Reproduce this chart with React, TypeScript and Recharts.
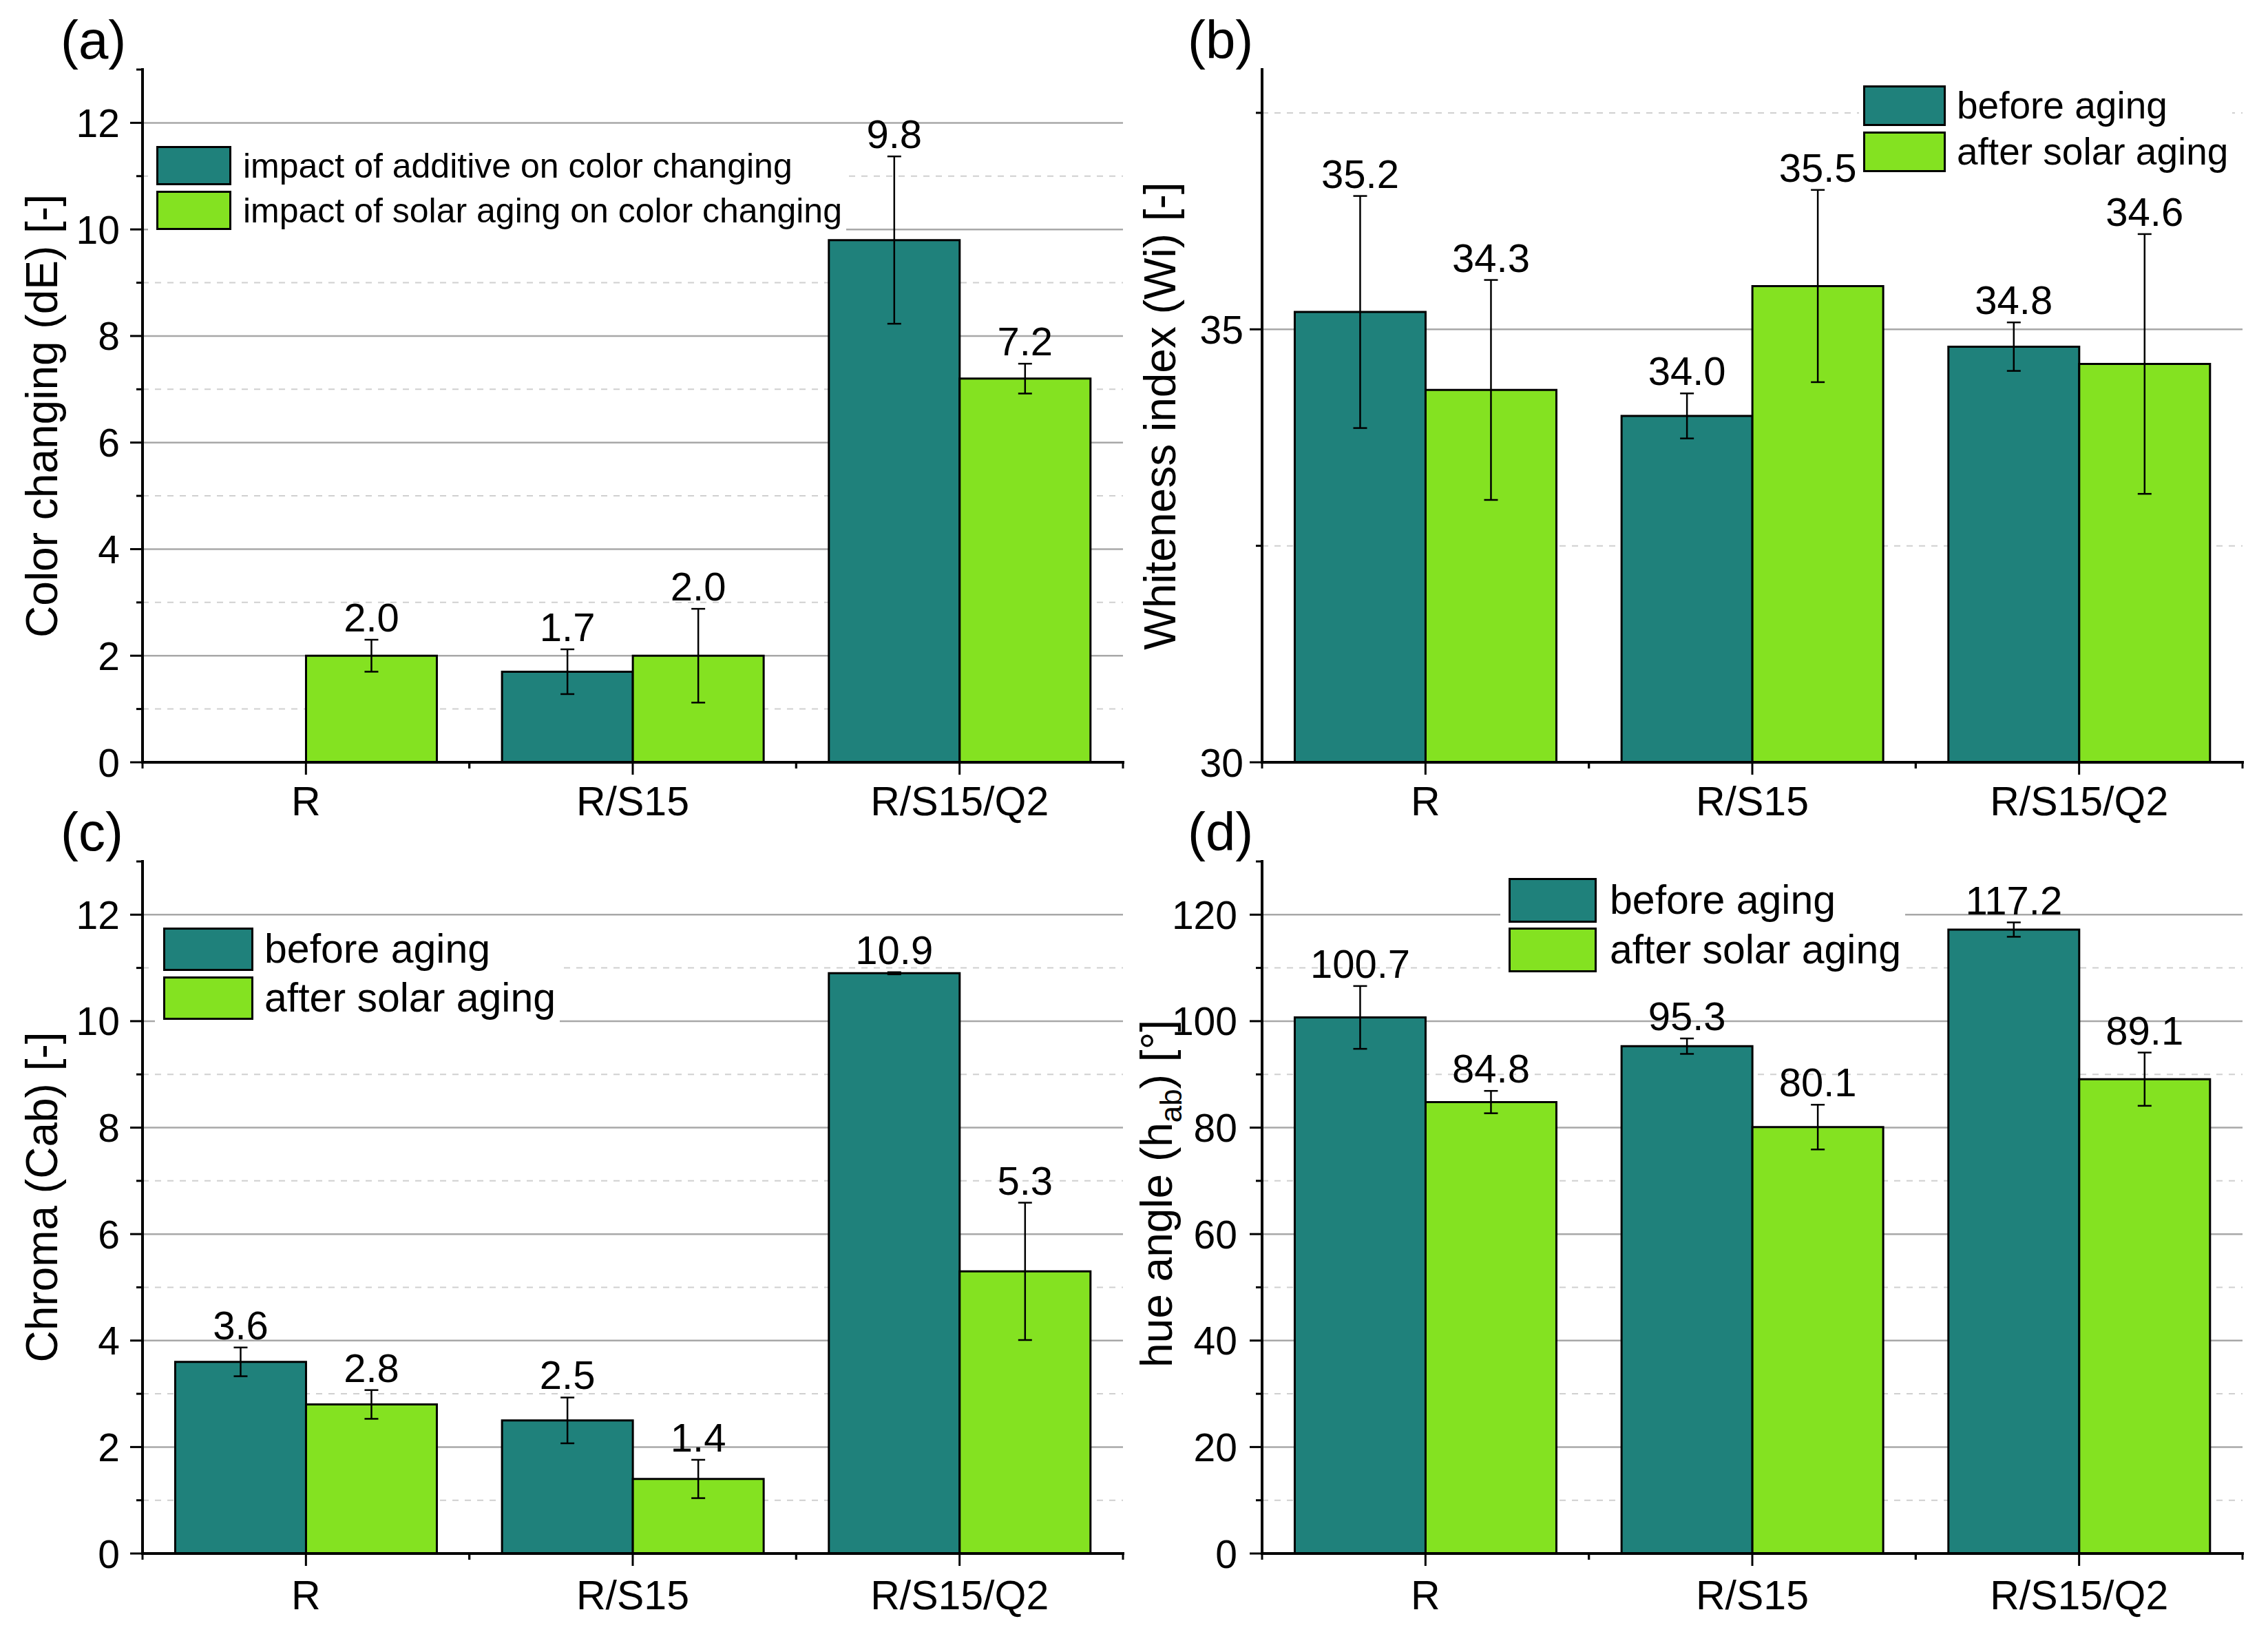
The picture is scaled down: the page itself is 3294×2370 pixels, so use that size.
import React from 'react';
import { BarChart, Bar, XAxis, YAxis, CartesianGrid, ErrorBar, LabelList, Legend } from 'recharts';

const FONT = "'Liberation Sans', Arial, Helvetica, sans-serif";
const TEAL = '#1f817b';
const GREEN = '#84e221';

const categories = ['R', 'R/S15', 'R/S15/Q2'];

// (a) colour change dE
const additiveDE = [null, 1.7, 9.8];
const additiveDEErr = [null, 0.42, 1.57];
const solarDE = [2.0, 2.0, 7.2];
const solarDEErr = [0.3, 0.88, 0.28];
// (b) whiteness index
const whiteBefore = [35.2, 34.0, 34.8];
const whiteBeforeErr = [1.34, 0.26, 0.28];
const whiteAfter = [34.3, 35.5, 34.6];
const whiteAfterErr = [1.27, 1.11, 1.5];
// (c) chroma
const chromaBefore = [3.6, 2.5, 10.9];
const chromaBeforeErr = [0.27, 0.43, 0.02];
const chromaAfter = [2.8, 1.4, 5.3];
const chromaAfterErr = [0.27, 0.36, 1.29];
// (d) hue angle
const hueBefore = [100.7, 95.3, 117.2];
const hueBeforeErr = [5.9, 1.45, 1.35];
const hueAfter = [84.8, 80.1, 89.1];
const hueAfterErr = [2.1, 4.2, 5.0];

// axis ticks
const ticks13 = [0, 1, 2, 3, 4, 5, 6, 7, 8, 9, 10, 11, 12, 13];
const majors13 = [0, 2, 4, 6, 8, 10, 12];
const grid13Major = [2, 4, 6, 8, 10, 12];
const grid13Minor = [1, 3, 5, 7, 9, 11];
const ticksWi = [30, 32.5, 35, 37.5];
const majorsWi = [30, 35];
const gridWiMajor = [35];
const gridWiMinor = [32.5, 37.5];
const ticksHue = [0, 10, 20, 30, 40, 50, 60, 70, 80, 90, 100, 110, 120, 130];
const majorsHue = [0, 20, 40, 60, 80, 100, 120];
const gridHueMajor = [20, 40, 60, 80, 100, 120];
const gridHueMinor = [10, 30, 50, 70, 90, 110];

const legendAB = ['impact of additive on color changing', 'impact of solar aging on color changing'];
const legendAging = ['before aging', 'after solar aging'];

const axisStyle = { stroke: '#000', strokeWidth: 4, strokeLinecap: 'square' as const };

const LeftTick = (props: any) => {
  const { x, y, payload, majors, gap } = props;
  const major = majors.includes(payload.value);
  return (
    <g>
      <line x1={x} x2={x - (major ? 18 : 9)} y1={y} y2={y} stroke="#000" strokeWidth={3} />
      {major && (
        <text x={x - gap} y={y} dy="0.36em" textAnchor="end" fontSize={57} fontFamily={FONT} fill="#000">
          {payload.value}
        </text>
      )}
    </g>
  );
};

const RightTick = (props: any) => {
  const { x, y, payload, majors } = props;
  const major = majors.includes(payload.value);
  return <line x1={x} x2={x - (major ? 18 : 9)} y1={y} y2={y} stroke="#000" strokeWidth={3} />;
};

const CatTick = (props: any) => {
  const { x, y, payload, labelDy, bw, showLabel } = props;
  return (
    <g>
      <line x1={x} x2={x} y1={y} y2={y + 18} stroke="#000" strokeWidth={3} />
      <line x1={x - bw / 2} x2={x - bw / 2} y1={y} y2={y + 9} stroke="#000" strokeWidth={3} />
      <line x1={x + bw / 2} x2={x + bw / 2} y1={y} y2={y + 9} stroke="#000" strokeWidth={3} />
      {showLabel && (
        <text x={x} y={y + labelDy} textAnchor="middle" fontSize={59} fontFamily={FONT} fill="#000">
          {payload.value}
        </text>
      )}
    </g>
  );
};

const makeValueLabel = (vals: (number | null)[], errs: (number | null)[], base: number) => (props: any) => {
  const vb = props.viewBox || {};
  const x = vb.x ?? props.x;
  const y = vb.y ?? props.y;
  const w = vb.width ?? props.width;
  const h = vb.height ?? props.height;
  const value = props.value;
  if (value == null || !isFinite(Number(value))) return null;
  let idx = props.index;
  if (idx == null || vals[idx] !== Number(value)) idx = vals.indexOf(Number(value));
  const ppu = h / (Number(value) - base);
  const e = errs[idx] ?? 0;
  const ty = y - e * ppu - 12;
  return (
    <text x={x + w / 2} y={ty} textAnchor="middle" fontSize={58} fontFamily={FONT} fill="#000">
      {Number(value).toFixed(1)}
    </text>
  );
};

const LegendBox = ({ names, fontSize, sw, sh, gap, textGap, pad }: any) => (
  <div style={{ background: '#fff', padding: pad, fontFamily: FONT }}>
    {names.map((n: string, i: number) => (
      <div key={n} style={{ display: 'flex', alignItems: 'center', marginTop: i ? gap : 0 }}>
        <div
          style={{
            width: sw,
            height: sh,
            background: i === 0 ? TEAL : GREEN,
            border: '3px solid #000',
            boxSizing: 'border-box',
            flex: 'none',
          }}
        />
        <span style={{ marginLeft: textGap, fontSize, lineHeight: 1, color: '#000', whiteSpace: 'nowrap' }}>{n}</span>
      </div>
    ))}
  </div>
);

const YTitle = ({ viewBox, dx, dyc, children }: any) => {
  const vb = viewBox || { x: 0, y: 0, width: 0, height: 0 };
  const cx = vb.x + dx;
  const cy = vb.y + vb.height / 2 + dyc;
  return (
    <text x={cx} y={cy} transform={`rotate(-90 ${cx} ${cy})`} textAnchor="middle" fontSize={64} fontFamily={FONT} fill="#000">
      {children}
    </text>
  );
};

function Panel(p: any) {
  const data = categories.map((cat, i) => ({ cat, s1: p.s1[i], e1: p.e1[i], s2: p.s2[i], e2: p.e2[i] }));
  const base = p.domain[0];
  const plotW = p.width - p.margin.left - p.margin.right - p.yWidth;
  const bw = plotW / categories.length;
  return (
    <div style={{ position: 'absolute', left: p.left, top: p.top, width: p.width, height: p.height }}>
      <BarChart width={p.width} height={p.height} data={data} margin={p.margin} barCategoryGap="10%" barGap={0}>
        <CartesianGrid xAxisId="cat" yAxisId="left" vertical={false} horizontalValues={p.gridMajor} stroke="#a8a8a8" strokeWidth={2.5} />
        <CartesianGrid xAxisId="cat" yAxisId="left" vertical={false} horizontalValues={p.gridMinor} stroke="#d0d0d0" strokeWidth={2} strokeDasharray="9 9" />
        <XAxis
          xAxisId="cat"
          dataKey="cat"
          interval={0}
          height={p.xHeight}
          tickLine={false}
          tickSize={0}
          tickMargin={0}
          axisLine={axisStyle}
          tick={(t: any) => <CatTick {...t} labelDy={p.labelDy} bw={bw} showLabel />}
        />
        <XAxis
          xAxisId="top"
          orientation="top"
          dataKey="cat"
          interval={0}
          height={0}
          tickLine={false}
          tickSize={0}
          tickMargin={0}
          axisLine={axisStyle}
          tick={(t: any) => <CatTick {...t} bw={bw} showLabel={false} />}
        />
        <YAxis
          yAxisId="left"
          type="number"
          domain={p.domain}
          allowDataOverflow
          ticks={p.ticks}
          interval={0}
          width={p.yWidth}
          tickLine={false}
          tickSize={0}
          tickMargin={0}
          axisLine={axisStyle}
          tick={(t: any) => <LeftTick {...t} majors={p.majors} gap={p.tickGap} />}
          label={(lp: any) => (
            <YTitle viewBox={lp.viewBox} dx={p.titleX} dyc={p.titleDy}>
              {p.title}
            </YTitle>
          )}
        />
        <YAxis
          yAxisId="right"
          orientation="right"
          type="number"
          domain={p.domain}
          allowDataOverflow
          ticks={p.ticks}
          interval={0}
          width={0}
          tickLine={false}
          tickSize={0}
          tickMargin={0}
          axisLine={axisStyle}
          tick={(t: any) => <RightTick {...t} majors={p.majors} />}
        />
        <Legend
          layout="horizontal"
          verticalAlign="middle"
          align="center"
          wrapperStyle={{ left: p.legend.left, top: p.legend.top, width: 'auto', height: 'auto' }}
          content={() => <LegendBox {...p.legend} />}
        />
        <Bar xAxisId="cat" yAxisId="left" dataKey="s1" name={p.names[0]} fill={TEAL} stroke="#000" strokeWidth={3} isAnimationActive={false}>
          <ErrorBar dataKey="e1" width={10} stroke="#000" strokeWidth={2.5} />
          <LabelList dataKey="s1" content={makeValueLabel(p.s1, p.e1, base)} />
        </Bar>
        <Bar xAxisId="cat" yAxisId="left" dataKey="s2" name={p.names[1]} fill={GREEN} stroke="#000" strokeWidth={3} isAnimationActive={false}>
          <ErrorBar dataKey="e2" width={10} stroke="#000" strokeWidth={2.5} />
          <LabelList dataKey="s2" content={makeValueLabel(p.s2, p.e2, base)} />
        </Bar>
      </BarChart>
    </div>
  );
}

const letterStyle = (left: number, top: number): React.CSSProperties => ({
  position: 'absolute',
  left,
  top,
  fontSize: 78,
  lineHeight: 1,
  fontFamily: FONT,
  color: '#000',
});

export default function App() {
  return (
    <div style={{ position: 'absolute', left: 0, top: 0, width: 3294, height: 2370, background: '#fff', fontFamily: FONT, overflow: 'hidden' }}>
      <Panel
        left={0}
        top={0}
        width={1640}
        height={1200}
        margin={{ top: 101, right: 9, bottom: 0, left: 0 }}
        yWidth={207}
        xHeight={93}
        labelDy={77}
        domain={[0, 13]}
        ticks={ticks13}
        majors={majors13}
        gridMajor={grid13Major}
        gridMinor={grid13Minor}
        tickGap={33}
        titleX={83}
        titleDy={0}
        title="Color changing (dE) [-]"
        names={legendAB}
        s1={additiveDE}
        e1={additiveDEErr}
        s2={solarDE}
        e2={solarDEErr}
        legend={{ left: 215, top: 198, names: legendAB, fontSize: 50, sw: 109, sh: 57, gap: 8, textGap: 17, pad: '14px 6px 12px 12px' }}
      />
      <Panel
        left={1640}
        top={0}
        width={1654}
        height={1200}
        margin={{ top: 101, right: 37, bottom: 0, left: 0 }}
        yWidth={193}
        xHeight={93}
        labelDy={77}
        domain={[30, 38]}
        ticks={ticksWi}
        majors={majorsWi}
        gridMajor={gridWiMajor}
        gridMinor={gridWiMinor}
        tickGap={27}
        titleX={67}
        titleDy={0}
        title="Whiteness index (Wi) [-]"
        names={legendAging}
        s1={whiteBefore}
        e1={whiteBeforeErr}
        s2={whiteAfter}
        e2={whiteAfterErr}
        legend={{ left: 1060, top: 110, names: legendAging, fontSize: 55, sw: 120, sh: 59, gap: 8, textGap: 16, pad: '14px 6px 10px 6px' }}
      />
      <Panel
        left={0}
        top={1180}
        width={1640}
        height={1190}
        margin={{ top: 71, right: 9, bottom: 0, left: 0 }}
        yWidth={207}
        xHeight={114}
        labelDy={81}
        domain={[0, 13]}
        ticks={ticks13}
        majors={majors13}
        gridMajor={grid13Major}
        gridMinor={grid13Minor}
        tickGap={33}
        titleX={83}
        titleDy={-15}
        title="Chroma (Cab) [-]"
        names={legendAging}
        s1={chromaBefore}
        e1={chromaBeforeErr}
        s2={chromaAfter}
        e2={chromaAfterErr}
        legend={{ left: 225, top: 153, names: legendAging, fontSize: 59, sw: 131, sh: 63, gap: 8, textGap: 16, pad: '14px 6px 12px 12px' }}
      />
      <Panel
        left={1640}
        top={1180}
        width={1654}
        height={1190}
        margin={{ top: 71, right: 37, bottom: 0, left: 0 }}
        yWidth={193}
        xHeight={114}
        labelDy={81}
        domain={[0, 130]}
        ticks={ticksHue}
        majors={majorsHue}
        gridMajor={gridHueMajor}
        gridMinor={gridHueMinor}
        tickGap={36}
        titleX={62}
        titleDy={-20}
        title={
          <>
            <tspan>hue angle (h</tspan>
            <tspan dy={14} fontSize={44}>ab</tspan>
            <tspan dy={-14}>) [°]</tspan>
          </>
        }
        names={legendAging}
        s1={hueBefore}
        e1={hueBeforeErr}
        s2={hueAfter}
        e2={hueAfterErr}
        legend={{ left: 539, top: 81, names: legendAging, fontSize: 59, sw: 128, sh: 65, gap: 7, textGap: 19, pad: '14px 6px 12px 12px' }}
      />
      <div style={letterStyle(88, 19)}>(a)</div>
      <div style={letterStyle(1725, 19)}>(b)</div>
      <div style={letterStyle(88, 1169)}>(c)</div>
      <div style={letterStyle(1725, 1169)}>(d)</div>
    </div>
  );
}
